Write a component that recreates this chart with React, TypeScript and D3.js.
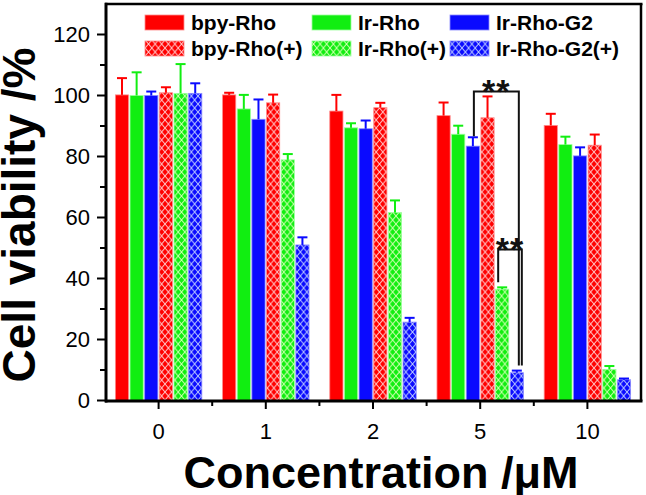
import React from "react";
import * as d3 from "d3";

const categories = ["0", "1", "2", "5", "10"];
const seriesNames = ["bpy-Rho", "Ir-Rho", "Ir-Rho-G2", "bpy-Rho(+)", "Ir-Rho(+)", "Ir-Rho-G2(+)"];
const bpyRho = [100.2, 100.2, 94.9, 93.4, 90.2];
const bpyRhoErr = [5.5, 0.7, 5.3, 4.3, 3.8];
const irRho = [100, 95.6, 89.4, 87.3, 83.9];
const irRhoErr = [7.6, 4.6, 1.5, 2.8, 2.6];
const irRhoG2 = [100, 92.2, 89.1, 83.4, 80.2];
const irRhoG2Err = [1.3, 6.5, 2.7, 2.9, 2.8];
const bpyRhoP = [100.9, 97.6, 96, 92.7, 83.7];
const bpyRhoPErr = [1.8, 2.7, 1.6, 7.0, 3.5];
const irRhoP = [100.7, 78.9, 61.6, 36.5, 10.2];
const irRhoPErr = [9.6, 1.9, 4.0, 0.6, 1.1];
const irRhoG2P = [100.7, 51.0, 25.7, 9.1, 6.8];
const irRhoG2PErr = [3.3, 2.5, 1.4, 0.7, 0.4];
const yMajorTicks = [0, 20, 40, 60, 80, 100, 120];
const yMinorTicks = [10, 30, 50, 70, 90, 110];
// significance brackets
const brackets = [
  { cat: "5", from: 2, to: 5, level: 101.3, leftEnd: 86.6, rightEnd: 11.5, label: "**" },
  { cat: "5", from: 4, to: 5, level: 49.5, leftEnd: 38.8, rightEnd: 11.5, label: "**" },
];

const values = [bpyRho, irRho, irRhoG2, bpyRhoP, irRhoP, irRhoG2P];
const errors = [bpyRhoErr, irRhoErr, irRhoG2Err, bpyRhoPErr, irRhoPErr, irRhoG2PErr];
const colors = ["#ff0000", "#11ee11", "#0a0aff", "#ff0000", "#11ee11", "#0a0aff"];
const edgeColors = ["#ff8a8a", "#9cff9c", "#8a8aff", "#ff8a8a", "#9cff9c", "#8a8aff"];
const hatchLine = ["#ffc8c8", "#d0ffb0", "#b8c8ff"];
const hatched = [false, false, false, true, true, true];

const W = 646;
const H = 495;
const left = 105;
const right = 641;
const top = 4;
const bottom = 401;
const FONT = "'Liberation Sans', Arial, Helvetica, sans-serif";

export default function App() {
  const x0 = d3.scaleBand<string>().domain(categories).range([left, right]).padding(0);
  const bw = x0.bandwidth();
  const groupW = bw * 0.82;
  const x1 = d3
    .scaleBand<number>()
    .domain(d3.range(seriesNames.length))
    .range([(bw - groupW) / 2, (bw + groupW) / 2])
    .paddingInner(0.1)
    .paddingOuter(0.05);
  const y = d3.scaleLinear().domain([0, 130]).range([bottom - 0.5, top]);

  const barFill = (s: number) => (hatched[s] ? `url(#hatch${s % 3})` : colors[s]);
  const cx = (c: string, s: number) => (x0(c) as number) + (x1(s) as number) + x1.bandwidth() / 2;

  const legendCols = [145, 312, 450];
  const legendRows = [15, 41];

  return (
    <svg width={W} height={H} style={{ position: "absolute", left: 0, top: 0, background: "#fff" }}>
      <defs>
        {[0, 1, 2].map((k) => (
          <pattern key={k} id={`hatch${k}`} patternUnits="userSpaceOnUse" width={6.6} height={8}>
            <rect width={6.6} height={8} fill={colors[k]} />
            <path d="M0,0L6.6,8M6.6,0L0,8" stroke={hatchLine[k]} strokeWidth={1} fill="none" />
          </pattern>
        ))}
      </defs>

      {/* bars */}
      {categories.map((c, i) =>
        seriesNames.map((_, s) => {
          const v = values[s][i];
          const bx = (x0(c) as number) + (x1(s) as number);
          return (
            <rect
              key={`b${i}-${s}`}
              x={bx}
              y={y(v)}
              width={x1.bandwidth()}
              height={y(0) - y(v)}
              fill={barFill(s)}
              stroke={edgeColors[s]}
              strokeWidth={0.8}
            />
          );
        })
      )}

      {/* error bars */}
      {categories.map((c, i) =>
        seriesNames.map((_, s) => {
          const v = values[s][i];
          const e = errors[s][i];
          const xc = cx(c, s);
          return (
            <g key={`e${i}-${s}`} stroke={colors[s]} strokeWidth={2} fill="none">
              <line x1={xc} x2={xc} y1={y(v)} y2={y(v + e)} />
              <line x1={xc - 5} x2={xc + 5} y1={y(v + e)} y2={y(v + e)} />
            </g>
          );
        })
      )}

      {/* significance brackets */}
      {brackets.map((b, k) => {
        const xl = cx(b.cat, b.from) + (k === 0 ? 1 : -4);
        const xr = cx(b.cat, b.to) + (k === 0 ? 2 : 5);
        const yl = y(b.level);
        return (
          <g key={`br${k}`}>
            <path
              d={`M${xl},${y(b.leftEnd)}V${yl}H${xr}V${y(b.rightEnd)}`}
              fill="none"
              stroke="#111"
              strokeWidth={2}
            />
            <text
              x={(xl + xr) / 2}
              y={yl + 11}
              textAnchor="middle"
              fontFamily={FONT}
              fontWeight="bold"
              fontSize={34}
              letterSpacing={1}
              fill="#111"
            >
              {b.label}
            </text>
          </g>
        );
      })}

      {/* frame */}
      <line x1={left} x2={right + 1.5} y1={top} y2={top} stroke="#000" strokeWidth={2.5} />
      <line x1={right} x2={right} y1={top} y2={bottom} stroke="#000" strokeWidth={2.5} />
      <line x1={left + 1} x2={left + 1} y1={top - 1.2} y2={bottom + 1.5} stroke="#000" strokeWidth={3} />
      <line x1={left} x2={right + 1.5} y1={bottom} y2={bottom} stroke="#000" strokeWidth={3} />

      {/* y ticks */}
      {yMajorTicks.map((t) => (
        <g key={`ym${t}`}>
          <line x1={left - 8} x2={left} y1={y(t)} y2={y(t)} stroke="#000" strokeWidth={2} />
          <text
            x={left - 15}
            y={y(t)}
            dy="0.36em"
            textAnchor="end"
            fontFamily={FONT}
            fontSize={22}
            fill="#000"
          >
            {t}
          </text>
        </g>
      ))}
      {yMinorTicks.map((t) => (
        <line key={`yn${t}`} x1={left - 5} x2={left} y1={y(t)} y2={y(t)} stroke="#000" strokeWidth={2} />
      ))}

      {/* x ticks */}
      {categories.map((c) => {
        const xc = (x0(c) as number) + bw / 2;
        return (
          <g key={`xm${c}`}>
            <line x1={xc} x2={xc} y1={bottom} y2={bottom + 8} stroke="#000" strokeWidth={2} />
            <text x={xc} y={439} textAnchor="middle" fontFamily={FONT} fontSize={22} fill="#000">
              {c}
            </text>
          </g>
        );
      })}
      {categories.slice(1).map((c) => (
        <line
          key={`xn${c}`}
          x1={x0(c) as number}
          x2={x0(c) as number}
          y1={bottom}
          y2={bottom + 5}
          stroke="#000"
          strokeWidth={2}
        />
      ))}

      {/* axis titles */}
      <text
        transform={`translate(35,215) rotate(-90)`}
        textAnchor="middle"
        fontFamily={FONT}
        fontWeight="bold"
        fontSize={46}
        fill="#000"
      >
        Cell viability /%
      </text>
      <text x={381} y={488} textAnchor="middle" fontFamily={FONT} fontWeight="bold" fontSize={45} fill="#000">
        Concentration /μM
      </text>

      {/* legend */}
      {seriesNames.map((n, s) => {
        const col = s % 3;
        const row = Math.floor(s / 3);
        const lx = legendCols[col];
        const ly = legendRows[row];
        return (
          <g key={`lg${s}`}>
            <rect x={lx} y={ly} width={39} height={15} fill={barFill(s)} stroke={edgeColors[s]} strokeWidth={0.8} />
            <text x={lx + 46} y={ly + 15} fontFamily={FONT} fontWeight="bold" fontSize={21} fill="#000">
              {n}
            </text>
          </g>
        );
      })}
    </svg>
  );
}
